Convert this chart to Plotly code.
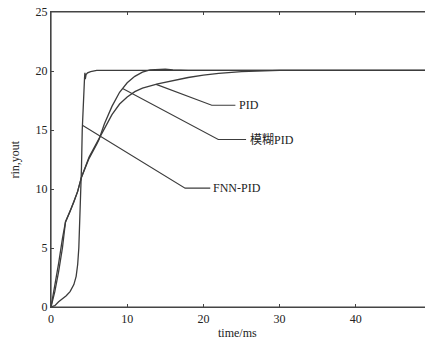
import numpy as np
import plotly.graph_objects as go

# ---- data ----
t_fnn = [0, 0.5, 1, 1.5, 2, 2.5, 3, 3.3, 3.5, 3.65, 3.8, 3.9, 4.0, 4.1, 4.2, 4.3, 4.4, 4.45, 4.5, 4.6, 4.8, 5.2, 6, 50]
y_fnn = [0, 0.12, 0.45, 0.7, 0.95, 1.3, 1.9, 2.6, 3.6, 5.0, 7.4, 9.5, 11.8, 15.0, 17.0, 18.4, 19.4, 19.85, 19.3, 19.7, 19.85, 19.95, 20.05, 20.05]

t_pid = [0, 0.5, 1, 1.5, 1.9, 2.5, 3, 3.5, 4, 5, 6, 6.3, 7, 8, 9, 10, 11, 12, 14, 16, 18, 20, 22, 25, 28, 30, 50]
y_pid = [0, 1.3, 3.0, 5.0, 7.2, 8.1, 8.9, 9.8, 11.0, 12.7, 13.9, 14.2, 15.1, 16.3, 17.2, 17.8, 18.25, 18.55, 18.9, 19.2, 19.45, 19.65, 19.8, 19.95, 20.0, 20.05, 20.05]

t_fuzzy = [0, 0.5, 1, 1.5, 1.9, 2.5, 3, 3.5, 4, 5, 6, 6.3, 7, 8, 9, 10, 11, 12, 13, 14, 15, 16, 17, 18, 50]
y_fuzzy = [0, 1.7, 3.7, 5.8, 7.2, 8.1, 8.9, 9.8, 11.0, 12.6, 13.8, 14.2, 15.5, 17.0, 18.2, 19.0, 19.55, 19.9, 20.1, 20.15, 20.15, 20.1, 20.05, 20.05, 20.05]

x_ticks = [0, 10, 20, 30, 40, 50]
y_ticks = [0, 5, 10, 15, 20, 25]

labels = ["PID", "模糊PID", "FNN-PID"]
# where each leader line touches its curve (time), elbow point, and label start
leader_t = [13.8, 9.4, 4.12]
elbow_xy = [(21.1, 17.1), (21.95, 14.2), (17.6, 10.07)]
label_x = [24.45, 25.9, 21.0]
seg_end_x = [24.2, 25.6, 20.9]

LINE = "#3c3c3c"
FONT = "Liberation Serif"

fig = go.Figure()
for t, y in [(t_pid, y_pid), (t_fuzzy, y_fuzzy), (t_fnn, y_fnn)]:
    fig.add_trace(go.Scatter(x=t, y=y, mode="lines",
                             line=dict(color=LINE, width=1.3),
                             showlegend=False, hoverinfo="skip"))

curves = [(t_pid, y_pid), (t_fuzzy, y_fuzzy), (t_fnn, y_fnn)]
shapes = [dict(type="rect", xref="paper", yref="paper", x0=0, y0=0, x1=1, y1=1,
               line=dict(color="#444", width=1.2), layer="above")]
annotations = []
for i, lab in enumerate(labels):
    tt, yy = curves[i]
    x0 = leader_t[i]
    y0 = float(np.interp(x0, tt, yy))
    ex, ey = elbow_xy[i]
    shapes.append(dict(type="path", xref="x", yref="y",
                       path=f"M {x0},{y0} L {ex},{ey} L {seg_end_x[i]},{ey}",
                       line=dict(color=LINE, width=1.1)))
    annotations.append(dict(x=label_x[i], y=ey, xref="x", yref="y",
                            text=lab, showarrow=False, xanchor="left", yanchor="middle",
                            font=dict(family=FONT + ", Noto Sans CJK SC", size=12, color="#222")))

annotations.append(dict(x=0.4895, y=-0.088, xref="paper", yref="paper", text="time/ms",
                        showarrow=False, xanchor="center", yanchor="middle",
                        font=dict(family=FONT, size=12, color="#222")))
annotations.append(dict(x=-0.0945, y=0.5, xref="paper", yref="paper", text="rin,yout",
                        showarrow=False, textangle=-90, xanchor="center", yanchor="middle",
                        font=dict(family=FONT, size=12, color="#222")))

axis_common = dict(showgrid=False, zeroline=False, showline=True, linecolor="#444",
                   linewidth=1.2, mirror="ticks", ticks="inside", ticklen=3,
                   tickcolor="#444", automargin=False, ticklabeloverflow="allow",
                   tickfont=dict(family=FONT, size=12, color="#222"))

# the page body adds an 8px margin, so the figure is sized to fit the 433x343 window
fig.update_layout(
    width=425, height=335,
    margin=dict(l=43, r=1, t=4, b=36),
    paper_bgcolor="white", plot_bgcolor="white",
    xaxis=dict(range=[0, 50], tickvals=x_ticks, ticktext=[str(v) for v in x_ticks], **axis_common),
    yaxis=dict(range=[0, 25], tickvals=y_ticks, ticktext=[str(v) for v in y_ticks], **axis_common),
    shapes=shapes, annotations=annotations,
)

fig.write_html("out.html")
